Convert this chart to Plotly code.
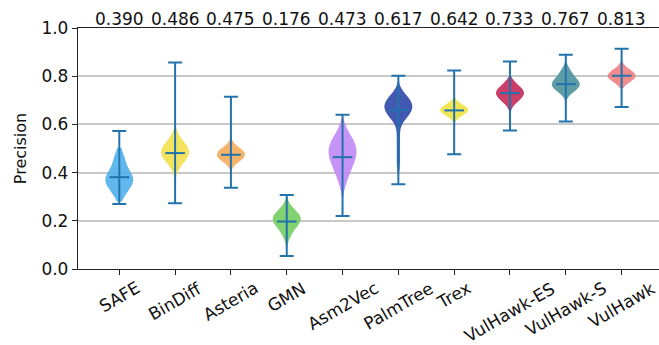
import plotly.graph_objects as go

categories = ["SAFE", "BinDiff", "Asteria", "GMN", "Asm2Vec", "PalmTree", "Trex",
              "VulHawk-ES", "VulHawk-S", "VulHawk"]
top_labels = ["0.390", "0.486", "0.475", "0.176", "0.473", "0.617", "0.642",
              "0.733", "0.767", "0.813"]

# violin body samples
safe_s = [0.31, 0.34, 0.36, 0.37, 0.38, 0.40, 0.43, 0.47]
bindiff_s = [0.44, 0.47, 0.48, 0.49, 0.50, 0.53]
asteria_s = [0.45, 0.465, 0.475, 0.485, 0.50]
gmn_s = [0.15, 0.19, 0.20, 0.21, 0.22, 0.24]
asm2vec_s = [0.38, 0.43, 0.46, 0.48, 0.50, 0.52, 0.55]
palmtree_s = [0.42, 0.455, 0.49, 0.525, 0.56, 0.595,
              0.62, 0.625, 0.63, 0.635, 0.64, 0.645, 0.65, 0.655, 0.66, 0.66,
              0.665, 0.67, 0.67, 0.675, 0.68, 0.68, 0.685, 0.69, 0.69, 0.695,
              0.70, 0.705, 0.71, 0.715, 0.72, 0.73, 0.74]
trex_s = [0.64, 0.655, 0.66, 0.665, 0.68]
vhes_s = [0.70, 0.72, 0.73, 0.74, 0.76]
vhs_s = [0.74, 0.755, 0.765, 0.775, 0.79, 0.82]
vh_s = [0.78, 0.795, 0.80, 0.81, 0.825]
samples = [safe_s, bindiff_s, asteria_s, gmn_s, asm2vec_s, palmtree_s, trex_s,
           vhes_s, vhs_s, vh_s]
span_lo = [0.28, 0.363, 0.404, 0.087, 0.30, 0.40, 0.605, 0.647, 0.68, 0.75]
span_hi = [0.503, 0.59, 0.543, 0.30, 0.626, 0.778, 0.716, 0.80, 0.855, 0.868]
bandwidths = [0.03, 0.035, 0.022, 0.03, 0.045, 0.025, 0.018, 0.025, 0.022, 0.02]

# whisker statistics
w_min = [0.270, 0.273, 0.337, 0.054, 0.220, 0.352, 0.476, 0.575, 0.612, 0.672]
w_max = [0.573, 0.857, 0.715, 0.307, 0.640, 0.802, 0.824, 0.861, 0.889, 0.914]
w_mid = [0.381, 0.481, 0.474, 0.197, 0.464, 0.660, 0.658, 0.730, 0.767, 0.802]

colors = ["rgba(80,176,234,0.9)", "rgba(243,224,80,0.9)", "rgba(245,172,90,0.9)",
          "rgba(118,205,98,0.9)", "rgba(192,136,246,0.9)", "rgba(56,80,174,0.95)",
          "rgba(240,226,64,0.9)", "rgba(198,46,90,0.92)", "rgba(80,148,158,0.92)",
          "rgba(240,128,128,0.9)"]
WC = "#2273ad"
FONT = "DejaVu Sans"

fig = go.Figure()
pos = list(range(len(categories)))
for i in pos:
    fig.add_trace(go.Violin(
        x0=i, y=samples[i], orientation="v", width=0.5, scalemode="width",
        spanmode="manual", span=[span_lo[i], span_hi[i]], bandwidth=bandwidths[i],
        fillcolor=colors[i], line=dict(width=0, color=colors[i]),
        points=False, box_visible=False, meanline_visible=False,
        hoverinfo="skip", showlegend=False))

fig.add_trace(go.Scatter(
    x=pos, y=w_mid, mode="markers",
    marker=dict(symbol="line-ew", size=14, color=WC, line=dict(width=2, color=WC)),
    error_y=dict(type="data", symmetric=False,
                 array=[w_max[i] - w_mid[i] for i in pos],
                 arrayminus=[w_mid[i] - w_min[i] for i in pos],
                 thickness=2, width=7, color=WC),
    hoverinfo="skip", showlegend=False))

for i in pos:
    fig.add_annotation(x=i, y=1, xref="x", yref="paper", text=top_labels[i],
                       showarrow=False, xanchor="center", yanchor="bottom",
                       yshift=-3, font=dict(family=FONT, size=17, color="#111"))
    fig.add_annotation(x=i, y=0, xref="x", yref="paper", text=categories[i],
                       showarrow=False, xanchor="center", yanchor="top",
                       textangle=-30, yshift=-6,
                       font=dict(family=FONT, size=17, color="#111"))

fig.update_layout(
    width=659, height=345, margin=dict(l=78, r=0, t=28, b=76),
    paper_bgcolor="white", plot_bgcolor="white", violinmode="overlay",
    font=dict(family=FONT, size=17, color="#111"),
    xaxis=dict(range=[-0.74, 9.67], tickvals=pos, ticktext=[""] * len(pos),
               ticks="outside", ticklen=5, tickcolor="#222", showline=True,
               linecolor="#222", linewidth=1.3, mirror=True, showgrid=False,
               zeroline=False),
    yaxis=dict(range=[0, 1], tickvals=[0, 0.2, 0.4, 0.6, 0.8, 1.0],
               ticktext=["0.0", "0.2", "0.4", "0.6", "0.8", "1.0"],
               ticks="outside", ticklen=5, tickcolor="#222", showline=True,
               linecolor="#222", linewidth=1.3, mirror=False, showgrid=True,
               gridcolor="#c8c8c8", gridwidth=1.5, zeroline=False,
               tickfont=dict(family=FONT, size=17, color="#111"),
               title=dict(text="Precision", standoff=10,
                          font=dict(family=FONT, size=16, color="#111"))),
)
fig.write_html("out.html")
